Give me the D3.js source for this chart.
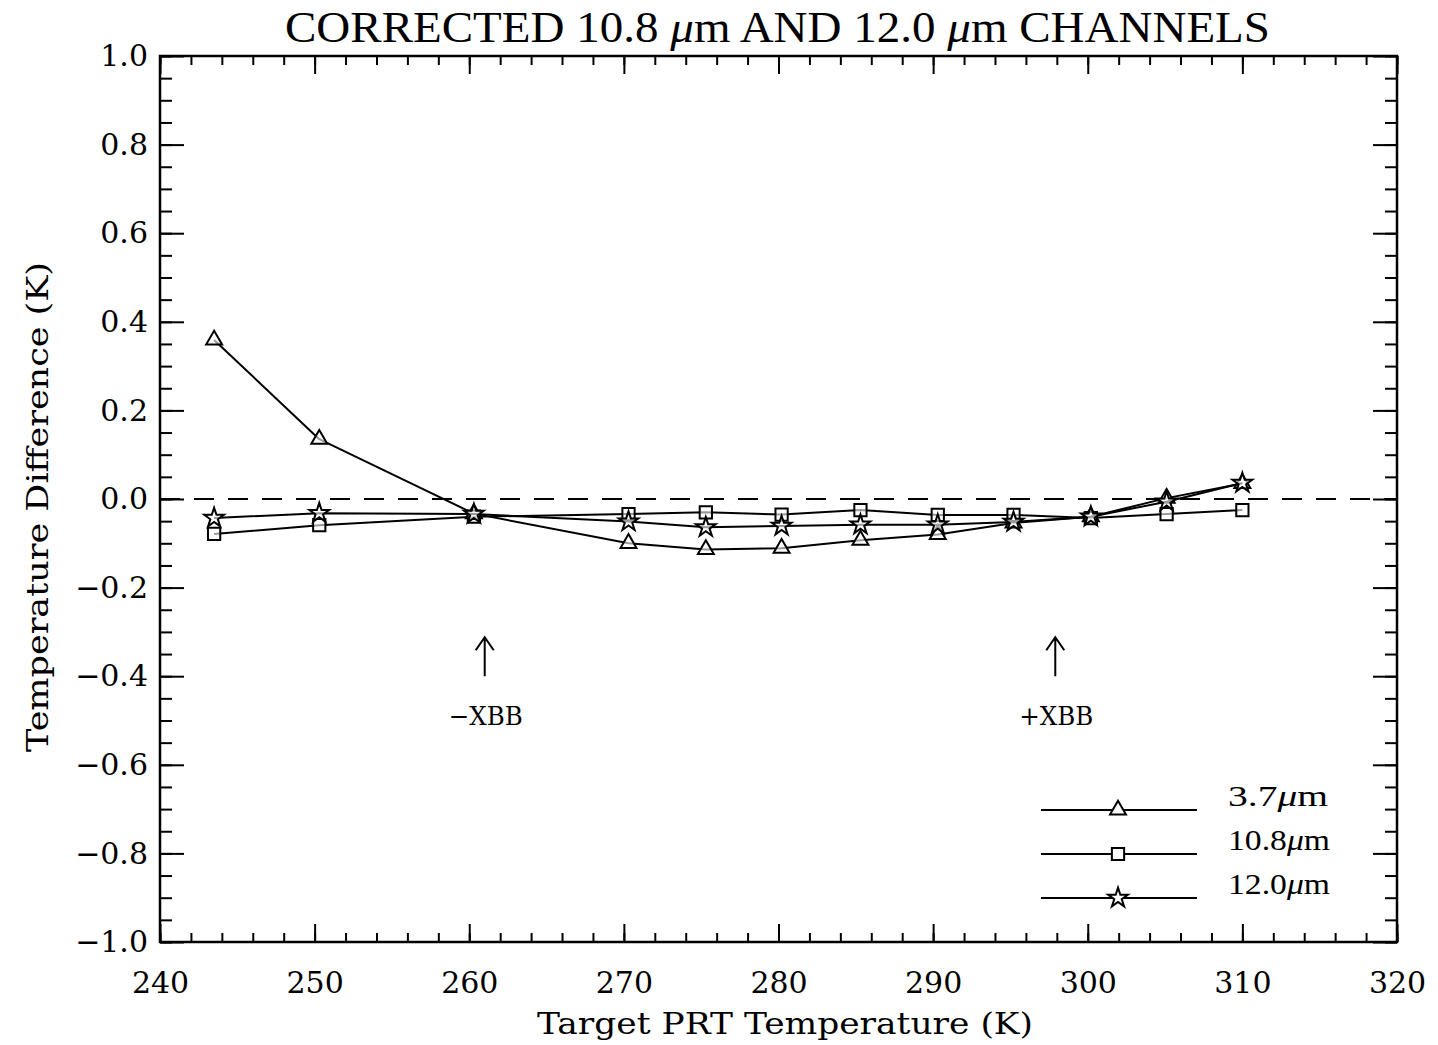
<!DOCTYPE html>
<head>
<meta charset="utf-8">
<style>
body { margin: 0; background: #fff; }
.line { fill: none; stroke: #000; stroke-width: 2px; stroke-linejoin: round; }
.tick text { font-family: "DejaVu Serif", serif; font-size: 30px; fill: #000; }
.label { font-family: "DejaVu Serif", serif; font-size: 30px; fill: #000; }
</style>
<script src="https://cdn.jsdelivr.net/npm/d3@7"></script>
</head>
<body>
<svg class="chart" width="1438" height="1045"></svg>
<script>

// Target PRT temperatures (K)
var temps = [243.5, 250.3, 260.3, 270.3, 275.3, 280.2, 285.3, 290.3, 295.2, 300.2, 305.1, 310.0];
// Temperature differences (K) per channel
var ch37  = [0.359, 0.135, -0.033, -0.100, -0.114, -0.111, -0.093, -0.080, -0.054, -0.040, 0.002, 0.035];
var ch108 = [-0.079, -0.059, -0.040, -0.034, -0.030, -0.035, -0.025, -0.036, -0.036, -0.043, -0.034, -0.025];
var ch120 = [-0.043, -0.032, -0.034, -0.051, -0.064, -0.061, -0.058, -0.058, -0.052, -0.040, -0.006, 0.036];

var seriesNames = ["3.7\u03bcm", "10.8\u03bcm", "12.0\u03bcm"];
var xTicks = [240, 250, 260, 270, 280, 290, 300, 310, 320];
var yTicks = [-1.0, -0.8, -0.6, -0.4, -0.2, 0.0, 0.2, 0.4, 0.6, 0.8, 1.0];
// the two blackbody markers
var xbbNames = ["\u2212XBB", "+XBB"];
var xbbTemps = [261.0, 297.9];

var svg = d3.select(".chart"),
  margin = {top: 56, right: 41, bottom: 103, left: 160},
  width = svg.attr("width") - margin.left - margin.right,
  height = svg.attr("height") - margin.top - margin.bottom,
  g = svg.append("g").attr("transform", "translate(" + margin.left + "," + margin.top + ")");

var x = d3.scaleLinear().domain([240, 320]).range([0, width]);
var y = d3.scaleLinear().domain([-1, 1]).range([height, 0]);

var fmtY = function(d) { return d3.format(".1f")(d).replace("-", "\u2212"); };

// minor ticks, all four sides pointing in
function minor(axis, vals) {
  return axis.tickValues(vals).tickFormat("").tickSizeOuter(0);
}
var xMinor = d3.range(240, 321, 2), yMinor = d3.range(-20, 21).map(function(i) { return i * 0.05; });

g.append("g").attr("transform", "translate(0," + height + ")").call(minor(d3.axisTop(x), xMinor).tickSize(9));
g.append("g").call(minor(d3.axisBottom(x), xMinor).tickSize(9));
g.append("g").call(minor(d3.axisRight(y), yMinor).tickSize(12));
g.append("g").attr("transform", "translate(" + width + ",0)").call(minor(d3.axisLeft(y), yMinor).tickSize(12));

// major ticks
var xb = g.append("g").attr("transform", "translate(0," + height + ")")
  .call(d3.axisTop(x).tickValues(xTicks).tickSize(18).tickSizeOuter(0));
xb.selectAll("text").attr("y", 30).attr("dy", "0.71em");
g.append("g").call(d3.axisBottom(x).tickValues(xTicks).tickFormat("").tickSize(18).tickSizeOuter(0));
var yl = g.append("g").call(d3.axisRight(y).tickValues(yTicks).tickSize(24).tickSizeOuter(0).tickFormat(fmtY));
yl.selectAll("text").attr("x", -12).attr("text-anchor", "end");
g.append("g").attr("transform", "translate(" + width + ",0)")
  .call(d3.axisLeft(y).tickValues(yTicks).tickSize(24).tickSizeOuter(0).tickFormat(""));

g.selectAll(".domain").remove();
g.selectAll(".tick line").attr("stroke", "#000").attr("stroke-width", 2);

// frame
g.append("rect").attr("width", width).attr("height", height)
  .attr("fill", "none").attr("stroke", "#000").attr("stroke-width", 2.5);

// zero reference
g.append("line").attr("x1", x(240)).attr("x2", x(320)).attr("y1", y(0)).attr("y2", y(0))
  .attr("stroke", "#000").attr("stroke-width", 2).attr("stroke-dasharray", "20,14");

var symbols = [d3.symbolTriangle, d3.symbolSquare, d3.symbolStar];
var sizes = [110, 150, 120];
var series = [ch37, ch108, ch120];

var line = d3.line()
  .x(function(d) { return x(d[0]); })
  .y(function(d) { return y(d[1]); });

series.forEach(function(vals, k) {
  var pts = temps.map(function(t, i) { return [t, vals[i]]; });
  g.append("path").datum(pts).attr("class", "line").attr("d", line);
  g.selectAll(".m" + k).data(pts).enter().append("path")
    .attr("class", "m" + k)
    .attr("transform", function(d) { return "translate(" + x(d[0]) + "," + y(d[1]) + ")"; })
    .attr("d", d3.symbol().type(symbols[k]).size(sizes[k]))
    .attr("fill", "#fff").attr("fill-opacity", 0.6).attr("stroke", "#000").attr("stroke-width", 2);
});

// legend
var leg = g.append("g").attr("transform", "translate(" + (width - 356) + "," + (height - 132) + ")");
seriesNames.forEach(function(name, k) {
  var row = leg.append("g").attr("transform", "translate(0," + (k * 44) + ")");
  row.append("line").attr("x1", 0).attr("x2", 156).attr("stroke", "#000").attr("stroke-width", 2);
  row.append("path").attr("transform", "translate(77,0)")
    .attr("d", d3.symbol().type(symbols[k]).size(sizes[k]))
    .attr("fill", "#fff").attr("stroke", "#000").attr("stroke-width", 2);
  var t = row.append("text").attr("x", 187).attr("y", -4)
    .attr("textLength", k === 0 ? 100 : 102).attr("lengthAdjust", "spacingAndGlyphs")
    .style("font-family", "'Liberation Serif', serif").style("font-size", "30px");
  var parts = name.split("\u03bc");
  t.append("tspan").text(parts[0]);
  t.append("tspan").style("font-style", "italic").text("\u03bc");
  t.append("tspan").text(parts[1]);
});

// XBB arrows
xbbTemps.forEach(function(t, i) {
  var ax = x(t), y0 = y(-0.40), y1 = y(-0.312);
  g.append("path")
    .attr("d", "M" + ax + "," + y0 + "V" + y1 + "M" + (ax - 9) + "," + (y1 + 13) + "L" + ax + "," + y1 + "L" + (ax + 9) + "," + (y1 + 13))
    .attr("fill", "none").attr("stroke", "#000").attr("stroke-width", 2);
  g.append("text").attr("class", "label").attr("x", ax + 1).attr("y", y(-0.51))
    .attr("text-anchor", "middle").attr("textLength", 74).attr("lengthAdjust", "spacingAndGlyphs")
    .style("font-size", "26px").text(xbbNames[i]);
});

// axis titles
svg.append("text").attr("class", "label").attr("x", 785).attr("y", 1034)
  .attr("text-anchor", "middle").attr("textLength", 496).attr("lengthAdjust", "spacingAndGlyphs")
  .text("Target PRT Temperature (K)");
svg.append("text").attr("class", "label")
  .attr("transform", "translate(48,507) rotate(-90)")
  .attr("text-anchor", "middle").attr("textLength", 490).attr("lengthAdjust", "spacingAndGlyphs")
  .text("Temperature Difference (K)");

// title
var title = svg.append("text").attr("x", 285).attr("y", 42)
  .attr("textLength", 985).attr("lengthAdjust", "spacingAndGlyphs")
  .style("font-family", "'Liberation Serif', serif").style("font-size", "44px");
title.append("tspan").text("CORRECTED 10.8 ");
title.append("tspan").style("font-style", "italic").text("\u03bc");
title.append("tspan").text("m AND 12.0 ");
title.append("tspan").style("font-style", "italic").text("\u03bc");
title.append("tspan").text("m CHANNELS");

</script>
</body>
